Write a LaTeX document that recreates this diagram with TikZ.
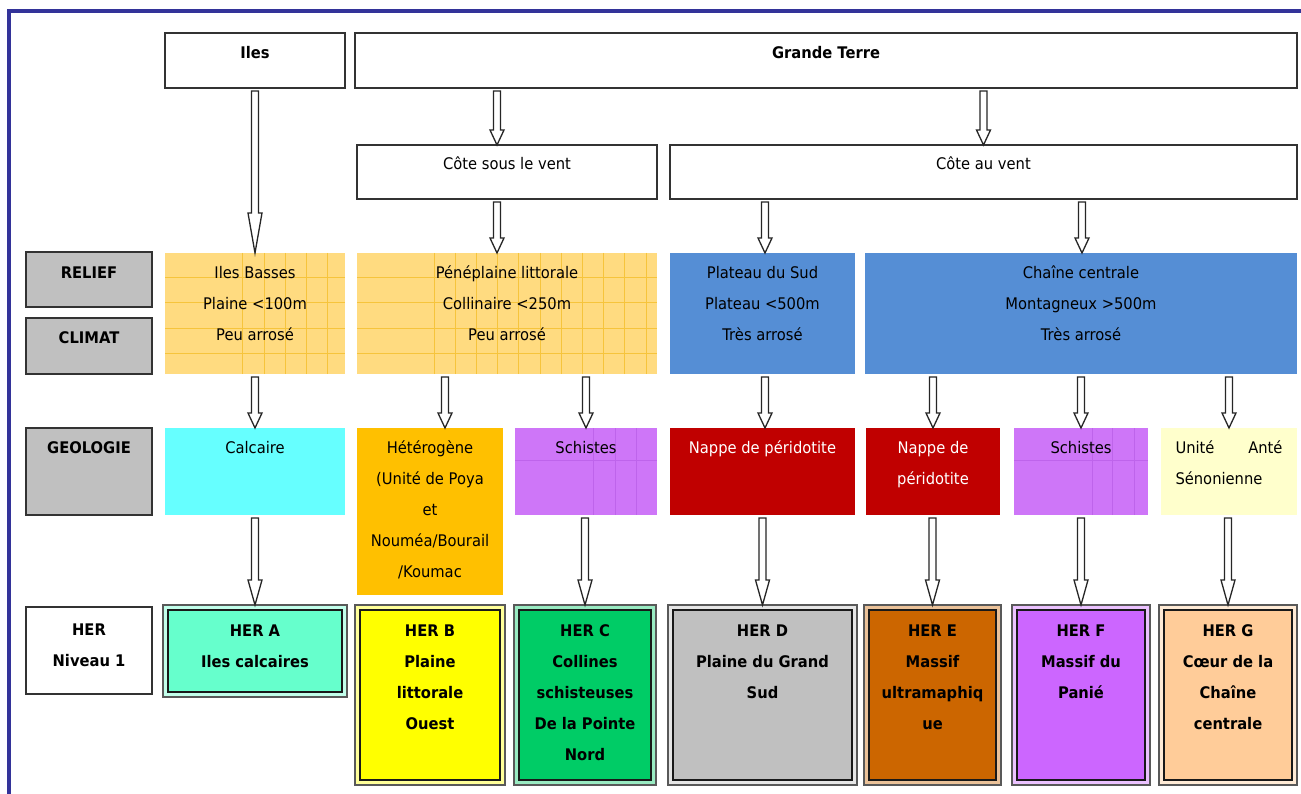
\documentclass[tikz,border=0pt]{standalone}
\usepackage{fontspec}
\setmainfont{DejaVu Sans}[FakeStretch=0.92]
\usetikzlibrary{calc}
\definecolor{frameblue}{RGB}{51,51,153}
\definecolor{lgray}{RGB}{192,192,192}
\definecolor{ryellow}{RGB}{255,219,128}
\definecolor{rgrid}{RGB}{246,196,60}
\definecolor{rblue}{RGB}{85,142,213}
\definecolor{gcyan}{RGB}{102,255,255}
\definecolor{gorange}{RGB}{255,192,0}
\definecolor{gpurple}{RGB}{206,118,248}
\definecolor{ppgrid}{RGB}{190,100,235}
\definecolor{gred}{RGB}{192,0,0}
\definecolor{gcream}{RGB}{255,255,204}
\definecolor{hA}{RGB}{102,255,204}
\definecolor{hB}{RGB}{255,255,0}
\definecolor{hC}{RGB}{0,204,102}
\definecolor{hD}{RGB}{192,192,192}
\definecolor{hE}{RGB}{204,102,0}
\definecolor{hF}{RGB}{204,102,255}
\definecolor{hG}{RGB}{255,204,153}
\tikzset{
  framebox/.style={draw=black!80, line width=1.5pt, fill=white},
  lblbox/.style={draw=black!80, line width=1.5pt, fill=lgray},
  flat/.style={draw=none, fill=#1},
  txt/.style={align=center, inner sep=0pt, font=\fontsize{16}{31}\selectfont},
  btxt/.style={txt, font=\fontsize{16}{31}\selectfont\bfseries},
  gridline/.style={draw=rgrid, line width=1pt},
  pgridline/.style={draw=ppgrid, line width=0.8pt},
  hollow/.style={draw=black!85, line width=1.3pt, fill=white, line join=miter},
}
% name, x1, y1, x2, y2, box style, text style, text
\newcommand\bx[8]{%
  \node[#6, anchor=north west, inner sep=0pt, outer sep=0pt,
        minimum width={(#4-#2)*1pt}, minimum height={(#5-#3)*1pt}] (#1) at (#2,#3) {};
  \node[#7, anchor=north] (#1-t) at ([yshift=-11pt]#1.north) {\rule{0pt}{14pt}#8};
}
% name, x1, y1, x2, y2, colour, text
\newcommand\her[7]{%
  \node[draw=black!65, line width=1.3pt, fill=#6!40!white, anchor=north west, inner sep=0pt, outer sep=0pt,
        minimum width={(#4-#2)*1pt}, minimum height={(#5-#3)*1pt}] (#1) at (#2,#3) {};
  \draw[line width=2.4pt, draw=black!90, fill=#6] ($(#1.north west)+(4.8,4.8)$) rectangle ($(#1.south east)+(-4.8,-4.8)$);
  \node[btxt, anchor=north] (#1-t) at ([yshift=-17pt]#1.north) {\rule{0pt}{14pt}#7};
}
% src, dst, dx, head length
\newcommand\harrow[4]{%
  \draw[hollow] let \p1=(#1.south), \p2=(#2.north) in
    ({\x2+(#3)*1pt-3.5pt},{\y1-3pt}) -- ({\x2+(#3)*1pt+3.5pt},{\y1-3pt})
    -- ({\x2+(#3)*1pt+3.5pt},{\y2+(#4)*1pt}) -- ({\x2+(#3)*1pt+7pt},{\y2+(#4)*1pt})
    -- ({\x2+(#3)*1pt},{\y2}) -- ({\x2+(#3)*1pt-7pt},{\y2+(#4)*1pt})
    -- ({\x2+(#3)*1pt-3.5pt},{\y2+(#4)*1pt}) -- cycle;
}
\begin{document}
\begin{tikzpicture}[x=1pt, y=-1pt]
\useasboundingbox (0,0) rectangle (1301,794);
\fill[white] (0,0) rectangle (1301,794);
% frame
\draw[frameblue, line width=4pt] (9,794) -- (9,11.5) -- (1301,11.5);

% top rows
\bx{iles}{165}{33}{345}{88}{framebox}{btxt}{Iles}
\bx{gt}{355}{33}{1297}{88}{framebox}{btxt}{Grande Terre}
\bx{csv}{357}{145}{657}{199}{framebox}{txt, yshift=1pt}{Côte sous le vent}
\bx{cav}{670}{145}{1297}{199}{framebox}{txt, yshift=1pt}{Côte au vent}

% left labels
\bx{relief}{26}{252}{152}{307}{lblbox}{btxt, yshift=-1pt}{RELIEF}
\bx{climat}{26}{318}{152}{374}{lblbox}{btxt}{CLIMAT}
\bx{geol}{26}{428}{152}{515}{lblbox}{btxt}{GEOLOGIE}
\bx{herlbl}{26}{607}{152}{694}{framebox}{btxt, yshift=-3pt}{HER\\Niveau 1}

% relief / climate row
\bx{ib}{165}{253}{345}{374}{flat=ryellow}{txt}{}
\foreach \gx in {242,264,285,306,327} \draw[gridline] (\gx,253) -- (\gx,374);
\foreach \gy in {278,303,328,353} \draw[gridline] (165,\gy) -- (345,\gy);
\node[txt, anchor=north] (ib-lines) at ([yshift=-11pt]ib.north) {\rule{0pt}{14pt}Iles Basses\\Plaine <100m\\Peu arrosé};

\bx{pen}{357}{253}{657}{374}{flat=ryellow}{txt}{}
\foreach \k in {0,...,10} \draw[gridline] ({434+21.2*\k},253) -- ({434+21.2*\k},374);
\foreach \gy in {278,303,328,353} \draw[gridline] (357,\gy) -- (657,\gy);
\node[txt, anchor=north] (pen-lines) at ([yshift=-11pt]pen.north) {\rule{0pt}{14pt}Pénéplaine littorale\\Collinaire <250m\\Peu arrosé};

\bx{ps}{670}{253}{855}{374}{flat=rblue}{txt}{Plateau du Sud\\Plateau <500m\\Très arrosé}
\bx{cc}{865}{253}{1297}{374}{flat=rblue}{txt}{Chaîne centrale\\Montagneux >500m\\Très arrosé}

% geology row
\bx{calc}{165}{428}{345}{515}{flat=gcyan}{txt}{Calcaire}
\bx{het}{357}{428}{503}{595}{flat=gorange}{txt}{Hétérogène\\(Unité de Poya\\et\\Nouméa/Bourail\\/Koumac}
\bx{sch1}{515}{428}{657}{515}{flat=gpurple}{txt}{}
\foreach \gx in {593,615,636} \draw[pgridline] (\gx,428) -- (\gx,515);
\draw[pgridline] (515,460) -- (657,460);
\node[txt, anchor=north] (sch1-lines) at ([yshift=-11pt]sch1.north) {\rule{0pt}{14pt}Schistes};
\bx{nap1}{670}{428}{855}{515}{flat=gred}{txt, text=white}{Nappe de péridotite}
\bx{nap2}{866}{428}{1000}{515}{flat=gred}{txt, text=white}{Nappe de\\péridotite}
\bx{sch2}{1014}{428}{1148}{515}{flat=gpurple}{txt}{}
\foreach \gx in {1092,1112,1134} \draw[pgridline] (\gx,428) -- (\gx,515);
\draw[pgridline] (1014,460) -- (1148,460);
\node[txt, anchor=north] (sch2-lines) at ([yshift=-11pt]sch2.north) {\rule{0pt}{14pt}Schistes};
\bx{unite}{1161}{428}{1297}{515}{flat=gcream}{txt, align=left, text width=107pt}{Unité\hfill Anté\\Sénonienne}

% HER row
\her{herA}{163}{605}{347}{697}{hA}{HER A\\Iles calcaires}
\her{herB}{355}{605}{505}{785}{hB}{HER B\\Plaine\\littorale\\Ouest}
\her{herC}{514}{605}{656}{785}{hC}{HER C\\Collines\\schisteuses\\De la Pointe\\Nord}
\her{herD}{668}{605}{857}{785}{hD}{HER D\\Plaine du Grand\\Sud}
\her{herE}{864}{605}{1001}{785}{hE}{HER E\\Massif\\ultramaphiq\\ue}
\her{herF}{1012}{605}{1150}{785}{hF}{HER F\\Massif du\\Panié}
\her{herG}{1159}{605}{1297}{785}{hG}{HER G\\Cœur de la\\Chaîne\\centrale}

% arrows
\harrow{iles}{ib}{0}{40}
\harrow{gt}{csv}{-10}{15}
\harrow{gt}{cav}{0}{15}
\harrow{csv}{pen}{-10}{15}
\harrow{cav}{ps}{2.5}{15}
\harrow{cav}{cc}{1}{15}

\harrow{ib}{calc}{0}{15}
\harrow{pen}{het}{15}{15}
\harrow{pen}{sch1}{0}{15}
\harrow{ps}{nap1}{2.5}{15}
\harrow{cc}{nap2}{0}{15}
\harrow{cc}{sch2}{0}{15}
\harrow{cc}{unite}{0}{15}

\harrow{calc}{herA}{0}{25}
\harrow{sch1}{herC}{0}{25}
\harrow{nap1}{herD}{0}{25}
\harrow{nap2}{herE}{0}{25}
\harrow{sch2}{herF}{0}{25}
\harrow{unite}{herG}{0}{25}
\end{tikzpicture}
\end{document}
